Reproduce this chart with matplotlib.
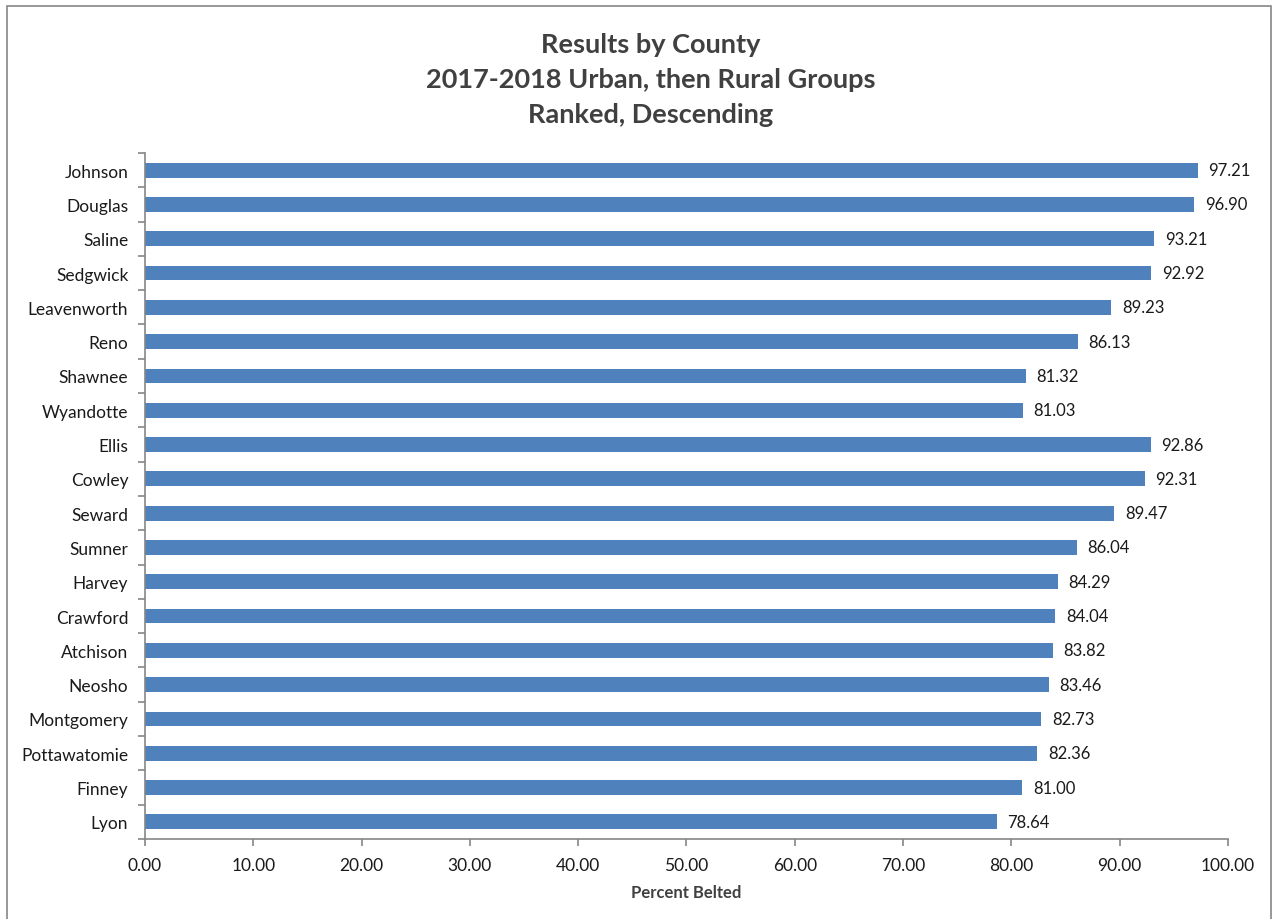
import matplotlib
matplotlib.use("Agg")
import matplotlib.pyplot as plt
from matplotlib.patches import Rectangle

counties = ["Johnson", "Douglas", "Saline", "Sedgwick", "Leavenworth", "Reno",
            "Shawnee", "Wyandotte", "Ellis", "Cowley", "Seward", "Sumner",
            "Harvey", "Crawford", "Atchison", "Neosho", "Montgomery",
            "Pottawatomie", "Finney", "Lyon"]
belted = [97.21, 96.90, 93.21, 92.92, 89.23, 86.13, 81.32, 81.03, 92.86, 92.31,
          89.47, 86.04, 84.29, 84.04, 83.82, 83.46, 82.73, 82.36, 81.00, 78.64]
xticks = [0, 10, 20, 30, 40, 50, 60, 70, 80, 90, 100]

plt.rcParams['font.family'] = ['Lato', 'DejaVu Sans']

fig = plt.figure(figsize=(12.74, 9.2), dpi=100)
ax = fig.add_axes([0.1138, 0.087, 0.8501, 0.7456])

# outer chart border
fig.patches.append(Rectangle((0.0055, -0.01), 0.992, 1.002, transform=fig.transFigure,
                             fill=False, edgecolor="#868686", linewidth=1.2))

ypos = list(range(len(counties)))
ax.barh(ypos, belted, height=0.43, color="#4F81BD")
for y, v in zip(ypos, belted):
    ax.text(v + 1.0, y, f"{v:.2f}", va="center", ha="left", fontsize=12, color="#1a1a1a")

ax.set_ylim(len(counties) - 0.5, -0.5)
ax.set_xlim(0, 100)
ax.set_yticks(ypos)
ax.set_yticklabels(counties, fontsize=12.5, color="#1a1a1a")
ax.set_yticks([y - 0.5 for y in ypos] + [len(counties) - 0.5], minor=True)
ax.tick_params(axis="y", which="major", length=0, pad=12)
ax.tick_params(axis="y", which="minor", length=5, color="#868686", width=1.2)
ax.set_xticks(xticks)
ax.set_xticklabels([f"{t:.2f}" for t in xticks], fontsize=12.5, color="#1a1a1a")
ax.tick_params(axis="x", length=5, color="#868686", width=1.2, pad=8)

for s in ["top", "right"]:
    ax.spines[s].set_visible(False)
for s in ["left", "bottom"]:
    ax.spines[s].set_color("#868686")
    ax.spines[s].set_linewidth(1.2)

ax.set_xlabel("Percent Belted", fontsize=12, fontweight="bold", color="#404040", labelpad=8)
fig.text(0.511, 0.9645, "Results by County\n2017-2018 Urban, then Rural Groups\nRanked, Descending",
         ha="center", va="top", fontsize=19.5, fontweight="bold", color="#404040", linespacing=1.55)

fig.savefig("out.png", dpi=100)
